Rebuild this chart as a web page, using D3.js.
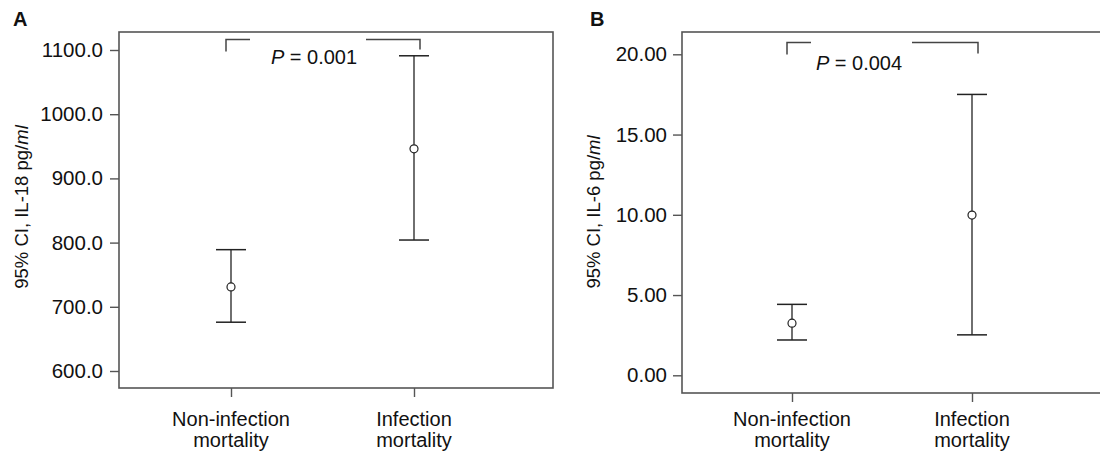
<!DOCTYPE html>
<html>
<head>
<meta charset="utf-8">
<script src="https://cdn.jsdelivr.net/npm/d3@7"></script>
<style>
  body { margin: 0; background: #fff; }
  svg { display: block; font-family: "Liberation Sans", Arial, sans-serif; }
</style>
</head>
<body>
<div id="chart"></div>
<script>
// categories on the x axis
let categories = ['Non-infection mortality', 'Infection mortality'];

// panel A: IL-18 (pg/ml), 95% CI
let il18Mean = [731, 946];
let il18Low = [676, 804];
let il18High = [789, 1091];
let il18Ticks = [600, 700, 800, 900, 1000, 1100];

// panel B: IL-6 (pg/ml), 95% CI
let il6Mean = [3.25, 9.98];
let il6Low = [2.2, 2.52];
let il6High = [4.42, 17.5];
let il6Ticks = [0, 5, 10, 15, 20];

let svgWidth = 1100;
let svgHeight = 453;

let svg = d3.select('#chart')
    .append('svg')
    .attr('width', svgWidth)
    .attr('height', svgHeight);

// one panel = frame + axis + error bars + p bracket
function drawPanel(opt) {
    let g = svg.append('g');
    let f = opt.frame;

    let x = d3.scalePoint()
        .domain(categories)
        .range([f.left + opt.xInset[0], f.left + opt.xInset[1]]);

    let y = d3.scaleLinear()
        .domain(opt.domain)
        .range(opt.yRange);

    // frame
    g.append('rect')
        .attr('x', f.left)
        .attr('y', f.top)
        .attr('width', f.right - f.left)
        .attr('height', f.bottom - f.top)
        .attr('fill', 'none')
        .attr('stroke', '#555')
        .attr('stroke-width', 1.6);

    // y axis
    let yAxis = d3.axisLeft(y)
        .tickValues(opt.ticks)
        .tickSize(9)
        .tickPadding(opt.pad)
        .tickFormat(d3.format(opt.fmt));
    let ya = g.append('g')
        .attr('transform', `translate(${f.left},0)`)
        .call(yAxis);
    ya.select('.domain').remove();
    ya.selectAll('line').attr('stroke', '#555').attr('stroke-width', 1.4);
    ya.selectAll('text').attr('font-size', 20.5).attr('fill', '#111')
        .attr('font-family', '"Liberation Sans", Arial, sans-serif');

    // x axis ticks + two line labels
    let xAxis = d3.axisBottom(x).tickSize(9).tickFormat('');
    let xa = g.append('g')
        .attr('transform', `translate(0,${f.bottom})`)
        .call(xAxis);
    xa.select('.domain').remove();
    xa.selectAll('line').attr('stroke', '#555').attr('stroke-width', 1.4);

    categories.forEach(c => {
        let words = c.split(' ');
        let t = g.append('text')
            .attr('x', x(c))
            .attr('y', 425.5)
            .attr('text-anchor', 'middle')
            .attr('font-size', 20)
            .attr('fill', '#111');
        t.append('tspan').attr('x', x(c)).text(words[0]);
        t.append('tspan').attr('x', x(c)).attr('dy', 21).text(words[1]);
    });

    // y title with italic "ml"
    let title = g.append('text')
        .attr('transform', `translate(${opt.titleX},${opt.titleY}) rotate(-90)`)
        .attr('text-anchor', 'middle')
        .attr('font-size', 18.5)
        .attr('fill', '#111');
    title.append('tspan').text(opt.title + ' pg/');
    title.append('tspan').attr('font-style', 'italic').text('ml');

    // panel letter
    g.append('text')
        .attr('x', opt.letterX)
        .attr('y', 26)
        .attr('font-size', 20)
        .attr('font-weight', 'bold')
        .attr('fill', '#111')
        .text(opt.letter);

    // error bars
    let bars = g.selectAll('.bar')
        .data(categories)
        .enter()
        .append('g');
    bars.append('line')
        .attr('x1', d => x(d)).attr('x2', d => x(d))
        .attr('y1', (d, i) => y(opt.high[i]))
        .attr('y2', (d, i) => y(opt.low[i]))
        .attr('stroke', '#222').attr('stroke-width', 1.3);
    bars.append('line')
        .attr('x1', d => x(d) - 15).attr('x2', d => x(d) + 15)
        .attr('y1', (d, i) => y(opt.high[i]))
        .attr('y2', (d, i) => y(opt.high[i]))
        .attr('stroke', '#222').attr('stroke-width', 1.5);
    bars.append('line')
        .attr('x1', d => x(d) - 15).attr('x2', d => x(d) + 15)
        .attr('y1', (d, i) => y(opt.low[i]))
        .attr('y2', (d, i) => y(opt.low[i]))
        .attr('stroke', '#222').attr('stroke-width', 1.5);
    bars.append('circle')
        .attr('cx', d => x(d))
        .attr('cy', (d, i) => y(opt.mean[i]))
        .attr('r', 4)
        .attr('fill', '#fff')
        .attr('stroke', '#222')
        .attr('stroke-width', 1.2);

    // p value bracket
    let b = opt.bracket;
    let bx1 = x(categories[0]) - 5;
    let bx2 = x(categories[1]) + 6;
    g.append('path')
        .attr('d', `M${bx1},${b.top + b.leftDrop} V${b.top} H${bx1 + b.gapL}`)
        .attr('fill', 'none').attr('stroke', '#444').attr('stroke-width', 1.5);
    g.append('path')
        .attr('d', `M${bx2 - b.gapR},${b.top} H${bx2} V${b.top + b.rightDrop}`)
        .attr('fill', 'none').attr('stroke', '#444').attr('stroke-width', 1.5);
    let pt = g.append('text')
        .attr('x', b.textX)
        .attr('y', b.textY)
        .attr('text-anchor', 'middle')
        .attr('font-size', 20)
        .attr('fill', '#111');
    pt.append('tspan').attr('font-style', 'italic').text('P');
    pt.append('tspan').text(' = ' + b.p);
}

drawPanel({
    letter: 'A', letterX: 13,
    frame: {left: 119, right: 553, top: 32, bottom: 388},
    xInset: [112, 295],
    domain: [600, 1100], yRange: [371, 50],
    ticks: il18Ticks, fmt: '.1f', pad: 7,
    mean: il18Mean, low: il18Low, high: il18High,
    title: '95% CI, IL-18', titleX: 28, titleY: 207,
    bracket: {top: 39.5, leftDrop: 12, rightDrop: 10, gapL: 24, gapR: 54,
              textX: 314, textY: 64, p: '0.001'}
});

drawPanel({
    letter: 'B', letterX: 590,
    frame: {left: 682, right: 1120, top: 32, bottom: 393},
    xInset: [110, 290],
    domain: [0, 20], yRange: [375.3, 54.3],
    ticks: il6Ticks, fmt: '.2f', pad: 6,
    mean: il6Mean, low: il6Low, high: il6High,
    title: '95% CI, IL-6', titleX: 600, titleY: 212,
    bracket: {top: 42.5, leftDrop: 12, rightDrop: 11, gapL: 24, gapR: 66,
              textX: 859, textY: 70, p: '0.004'}
});
</script>
</body>
</html>
